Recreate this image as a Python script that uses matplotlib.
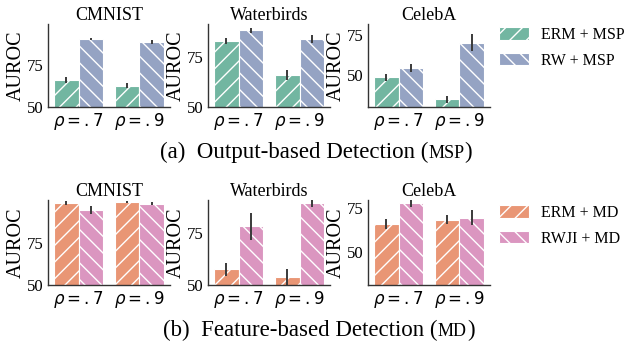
import matplotlib
matplotlib.use("Agg")
import matplotlib.pyplot as plt
import numpy as np
import seaborn as sns

# Data
datasets = ["CMNIST", "Waterbirds", "CelebA"]
rho_labels = [r"$\rho = .7$", r"$\rho = .9$"]

# (a) output-based detection (MSP)
msp_erm = [[66.0, 62.7], [82.8, 65.7], [48.5, 34.8]]
msp_erm_err = [[2.0, 1.5], [1.3, 2.5], [2.0, 2.0]]
msp_rw = [[90.3, 88.5], [88.0, 83.7], [54.5, 70.4]]
msp_rw_err = [[0.6, 1.2], [1.2, 2.0], [2.4, 5.6]]
msp_ylim = [(50, 99.4), (50, 91.2), (30, 82)]

# (b) feature-based detection (MD)
md_erm = [[99.0, 99.6], [57.7, 53.8], [66.0, 68.3]]
md_erm_err = [[1.2, 0.5], [3.2, 3.8], [2.9, 2.6]]
md_rwji = [[94.6, 98.4], [78.4, 89.6], [78.3, 69.7]]
md_rwji_err = [[2.5, 0.8], [6.4, 1.6], [2.6, 4.3]]
md_ylim = [(50, 100.6), (50, 91.2), (30.8, 79.8)]

set2 = sns.color_palette("Set2")
c_green = sns.desaturate(set2[0], 0.75)
c_orange = sns.desaturate(set2[1], 0.75)
c_blue = sns.desaturate(set2[2], 0.75)
c_pink = sns.desaturate(set2[3], 0.75)

plt.rcParams["font.family"] = "Liberation Serif"
plt.rcParams["mathtext.fontset"] = "dejavusans"
plt.rcParams["hatch.linewidth"] = 1.0

W, H = 626, 343
fig = plt.figure(figsize=(W / 100, H / 100), dpi=100)

lefts = [48, 208, 368]
aw = 122


def draw_row(top, bottom, erm, erm_err, rw, rw_err, ylims, c1, c2, lab1, lab2):
    x = np.arange(2)
    w = 0.4
    for i, name in enumerate(datasets):
        ax = fig.add_axes([lefts[i] / W, 1 - bottom / H, aw / W, (bottom - top) / H])
        b1 = ax.bar(x - w / 2, erm[i], w, color=c1, edgecolor="white", hatch="//", linewidth=0.8, label=lab1)
        b2 = ax.bar(x + w / 2, rw[i], w, color=c2, edgecolor="white", hatch="\\\\", linewidth=0.8, label=lab2)
        ax.errorbar(x - w / 2, erm[i], yerr=erm_err[i], fmt="none", ecolor="#3a3a3a", elinewidth=1.4, capsize=0)
        ax.errorbar(x + w / 2, rw[i], yerr=rw_err[i], fmt="none", ecolor="#3a3a3a", elinewidth=1.4, capsize=0)
        ax.set_xlim(-0.5, 1.5)
        ax.set_ylim(*ylims[i])
        ax.set_yticks([50, 75])
        ax.set_xticks(x)
        ax.set_xticklabels(rho_labels, fontsize=12)
        ax.tick_params(length=0, labelsize=12, pad=3)
        ax.set_ylabel("AUROC", fontsize=14.5, labelpad=1)
        ax.set_title(name, fontsize=13, pad=3)
        for s in ["top", "right"]:
            ax.spines[s].set_visible(False)
        for s in ["left", "bottom"]:
            ax.spines[s].set_color("#333333")
            ax.spines[s].set_linewidth(1.0)
    return b1, b2


h1 = draw_row(24, 107, msp_erm, msp_erm_err, msp_rw, msp_rw_err, msp_ylim,
              c_green, c_blue, "ERM + MSP", "RW + MSP")
h2 = draw_row(200, 285, md_erm, md_erm_err, md_rwji, md_rwji_err, md_ylim,
              c_orange, c_pink, "ERM + MD", "RWJI + MD")

leg_kw = dict(loc="upper left", frameon=False, fontsize=11.5, handlelength=1.9, handleheight=0.8,
              handletextpad=0.7, labelspacing=0.6, borderpad=0, borderaxespad=0)
fig.legend(h1, ["ERM + MSP", "RW + MSP"], bbox_to_anchor=(499 / W, 1 - 27 / H), **leg_kw)
fig.legend(h2, ["ERM + MD", "RWJI + MD"], bbox_to_anchor=(499 / W, 1 - 205 / H), **leg_kw)

# captions with small caps imitation
renderer = fig.canvas.get_renderer()


def caption(parts, cx, y):
    texts = []
    for s, fs in parts:
        t = fig.text(0, y, s, fontsize=fs, va="baseline", ha="left")
        texts.append(t)
    widths = [t.get_window_extent(renderer).width for t in texts]
    x = cx * W - sum(widths) / 2
    for t, wd in zip(texts, widths):
        t.set_x(x / W)
        x += wd


caption([("(a)  Output-based Detection (", 16.5), ("MSP", 13), (")", 16.5)], 316 / W, 1 - 158 / H)
caption([("(b)  Feature-based Detection (", 16.5), ("MD", 13), (")", 16.5)], 319 / W, 1 - 336 / H)

fig.savefig("out.png", dpi=100)
